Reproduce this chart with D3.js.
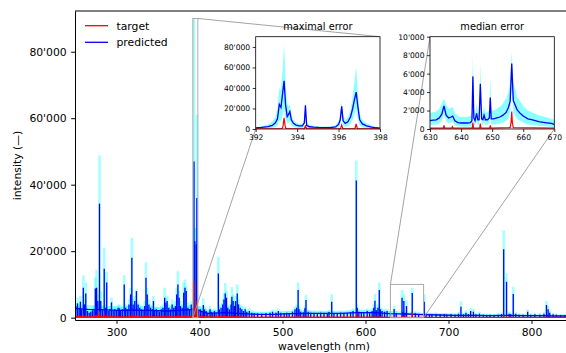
<!DOCTYPE html>
<html>
<head>
<meta charset="utf-8">
<script src="https://cdn.jsdelivr.net/npm/d3@7"></script>
<style>
  body { margin: 0; background: #fff; }
  svg { display: block; }
  text { font-family: "DejaVu Sans", sans-serif; fill: #000; }
</style>
</head>
<body>
<div id="chart"></div>
<script>
// ---- main spectrum: smooth background level ----
const baseWl   = [250, 265, 280, 300, 320, 340, 360, 380, 395, 410, 430, 450, 470, 490, 510, 530, 550, 570, 590, 610, 630, 650, 670, 690, 710, 730, 750, 770, 790, 810, 830, 850];
const basePred = [2800,2500,2400,2200,2300,2200,2000,2300,2500,1300,1500,1200,1000,1000,1200,1300,1300,1300,1500,1500,1200,1100,900,800,700,700,600,700,600,600,500,500];
const baseHi   = [4200,3800,3700,3400,3500,3400,3100,3500,3800,2200,2400,2000,1700,1700,2000,2100,2100,2100,2400,2400,2000,1800,1500,1300,1200,1200,1000,1200,1000,1000,900,900];
const baseLo   = [1000,900,900,800,800,800,700,800,900,500,600,500,400,400,500,500,500,500,600,600,500,400,350,300,250,250,200,250,200,200,200,200];
const baseTgt  = [300,250,300,200,200,200,200,250,300,200,200,150,120,120,120,120,120,120,150,120,100,100,100,80,80,80,80,80,80,80,80,80];

// ---- main spectrum: emission lines ----
const peakWl = [
  251,253,255,256.5,258,260,261.5,263,265,267,269,271,273,274.5,276,277.5,279.5,281,283,285.2,287,288.2,290,292,294,296,298,
  300,302,303.5,305,307,309.3,311,313,315,317,318.5,320,322,324,326,328,330,332,334,335.5,337,339,341,343,344.5,346,348,
  350,352,354,356,358,359.5,361,363,365,367,369,371,372.5,374,375.5,377,379,381,382.5,384,386,388,390,392,
  393.37,394.4,396.15,396.85,399,
  401,403,404.6,406,408,410,412.6,414,416,418,420,422.7,424,426,428,429.5,431,432.5,434,436,438,439,440.5,442,443.5,445.5,447,449,451,453,455,457,460,463,466,470,475,480,485,488,492,495,498,
  502,505,508,512,515,517,518.8,520,522,525,527,528.3,531,534,538,542,546,550,554,556,559.3,562,566,570,574,578,582,585,588.9,590,592,595,598,
  602,605,608,610,611.4,613,615,616.6,618,620,623,626,630,634.5,637,644,645,646.2,647.5,649.4,656.3,660,664,670.8,673,677,680,685,690,695,698,
  703,708,712,715,718,721,724,726.7,730,733,737.3,742,746,750,755,760,764,766.5,769.9,773,775,778,781,785,790,795.4,799,804,810,815,818,820,822,826,830,835,840,845
];
const peakPred = [
  3500,4300,3000,4800,2500,9000,4000,7300,2000,1500,1800,2200,2500,8800,9000,5000,34300,5000,2500,14700,3000,10600,2000,2500,4600,2000,2600,
  2000,3000,2800,2000,2500,10000,3000,2500,4000,7000,18000,4000,5000,8000,4000,3000,2500,2000,3500,12000,7000,4000,3000,2500,5000,2000,2500,
  2000,1800,2500,3000,6000,4500,5000,3000,2500,4000,3000,3500,7000,10000,6000,3500,3000,7500,9000,8000,3000,2500,4000,3000,
  47000,23000,22000,36000,2500,
  2500,2000,3800,2500,2000,1500,2500,1800,1500,2000,1500,13300,2500,3000,4000,5500,7300,6000,3000,2500,4000,6300,5000,3500,5000,7300,4000,3000,2500,2000,2500,1800,2000,1500,1400,1300,1200,1300,1500,1800,1500,2000,1500,
  1400,1500,1400,1800,2500,3000,8300,2500,1800,1600,2800,5300,1800,1500,1400,1300,1500,1400,1300,1700,4800,1400,1300,1500,1300,1400,1600,2000,41300,3000,1800,1500,1600,
  2000,1500,2000,3000,5100,2200,3000,8300,2500,2000,1800,2000,1300,2600,1400,6000,1700,5000,1500,3500,7400,1300,1100,4800,1000,900,1000,1100,900,1000,900,
  1000,900,1200,3300,1000,1500,1100,2000,1800,1000,1200,900,800,900,800,900,1100,20600,10800,1200,1000,7100,1200,900,900,1800,900,1000,900,1200,3800,2500,1500,1000,900,800,800,700
];
const peakHi = [
  4500,6000,4000,6500,3500,12700,5500,10600,3000,2200,2500,3000,3500,12000,14400,7000,48800,8000,3500,21000,4200,13700,2800,3500,6000,2800,3500,
  3000,4000,3800,3000,3300,12800,4000,3500,5500,9000,24000,5500,6500,8500,5000,4000,3500,3000,5000,16700,9000,5500,4000,3500,6500,3000,3200,
  3000,2500,3500,4000,9000,6000,6500,4000,3500,5500,4000,5000,9000,14000,8000,5000,4000,10500,11500,9500,4500,3800,5000,4000,
  90000,27000,27000,61000,3500,
  3500,3000,5900,3500,2800,2200,3500,2500,2200,2800,2200,18300,3500,4200,5500,7500,10400,8000,4000,3500,5500,9200,7000,5000,6500,10000,5500,4000,3500,3000,3300,2500,2800,2200,2000,1800,1700,1800,2000,2500,2200,2600,2000,
  2000,2100,2000,2500,3300,4000,10600,3500,2500,2200,3600,6800,2400,2100,2000,1800,2000,1900,1800,2300,7000,2000,1800,2000,1800,1900,2200,2800,47300,4000,2500,2100,2200,
  2700,2100,2800,4000,7200,3000,4000,10600,3300,2700,2500,2700,2000,3500,2000,8300,2500,7000,2200,5200,9000,2000,1600,7100,1500,1400,1500,1600,1300,1400,1300,
  1500,1300,1700,5000,1500,2200,1600,3000,2600,1400,1800,1300,1200,1300,1200,1300,1600,26300,13400,1800,1500,9300,1700,1300,1300,2500,1300,1500,1300,1700,5000,3500,2100,1400,1300,1200,1100,1000
];
const peakTgt = [
  400,500,300,600,300,900,400,700,300,200,250,300,300,800,900,500,1800,500,300,1200,300,900,300,300,500,250,300,
  250,300,300,250,300,800,300,250,400,600,1200,400,500,700,400,300,250,250,350,900,600,400,300,250,500,250,250,
  250,200,300,300,600,400,500,300,250,400,300,350,600,900,500,350,300,700,900,800,300,250,400,300,
  11000,3000,4000,5000,300,
  250,200,350,250,200,150,250,180,150,200,150,900,250,300,400,500,700,500,300,250,400,600,500,300,400,600,350,300,250,200,200,150,150,130,120,120,110,120,130,150,130,150,130,
  120,130,120,150,200,250,400,200,150,130,200,300,150,130,120,110,120,120,110,130,250,120,110,120,110,120,130,150,1300,200,150,130,130,
  150,120,150,200,250,150,200,400,150,130,120,130,100,300,100,700,150,600,120,400,1800,100,90,250,90,80,90,90,80,80,80,
  80,80,90,200,80,120,90,150,130,80,100,80,80,80,80,80,90,800,500,90,80,300,90,80,80,130,80,80,80,90,200,150,100,80,80,80,80,80
];

// ---- inset 1: maximal error ----
const in1Wl   = [392.0,392.3,392.6,392.8,392.95,393.05,393.14,393.22,393.30,393.37,393.44,393.52,393.58,393.65,393.72,393.82,393.95,394.1,394.25,394.35,394.40,394.46,394.6,394.8,395.0,395.3,395.6,395.85,396.0,396.08,396.15,396.22,396.32,396.45,396.58,396.68,396.76,396.85,396.93,397.02,397.15,397.35,397.6,397.8,398.0];
const in1Pred = [1000,1500,2300,3500,6000,10000,24000,21000,35000,47000,24000,12000,14000,17000,9000,5500,3800,3000,3000,6000,23000,3500,2200,1800,1500,1300,1400,2000,4500,9000,22000,8000,5500,7000,12000,20000,28000,36000,22000,9000,5000,3000,1800,1200,900];
const in1Hi   = [2000,3000,4500,7000,12000,20000,40000,38000,58000,84000,45000,25000,22000,24000,15000,9000,6000,5000,5000,10000,27000,6000,4000,3200,2800,2500,2600,3500,7500,14000,27000,13000,9000,11000,18000,32000,45000,61000,35000,15000,8500,5500,3500,2200,1700];
const in1Lo   = [300,500,800,1200,2000,3500,9000,7000,14000,20000,10000,5000,6000,8000,4000,2000,1400,1000,1000,2500,12000,1200,700,600,500,400,500,700,1500,3500,12000,3000,2000,2500,5000,9000,14000,20000,10000,3500,1800,1000,600,400,300];
const in1TgtWl  = [392.0,393.27,393.32,393.37,393.42,393.47,394.34,394.40,394.46,396.09,396.15,396.21,396.79,396.85,396.91,398.0];
const in1TgtVal = [150,150,3000,11000,3000,150,150,3000,150,150,4000,150,150,5000,150,150];

// ---- inset 2: median error ----
const in2Wl   = [630,631,632,633,633.8,634.5,635.2,636,636.8,637.3,638,639,640,641,642,643,643.5,643.8,644.1,644.5,645,645.4,645.8,646.2,646.6,647,647.4,647.8,648.5,649.1,649.4,649.7,650.5,651.5,652.5,653.5,654.5,655.2,655.8,656.3,656.8,657.4,658,659,660,661.5,663,665,667,669,670];
const in2Pred = [900,950,1000,1200,1600,2500,1500,1200,1300,1400,900,700,650,650,650,700,900,5700,1200,900,1700,1000,1000,4900,1100,1000,1500,1000,1000,1200,3400,1100,1100,1200,1300,1500,1800,2300,3000,7100,3100,2600,2100,1700,1400,1100,1000,800,700,600,500];
const in2Hi   = [1800,1800,1900,2200,2800,3300,2600,2200,2300,2400,1700,1400,1300,1300,1300,1400,1700,8100,2200,1700,2700,1800,1800,7100,2000,1800,2500,1800,1800,2100,5600,2000,2000,2200,2400,2800,3300,4000,5000,8300,5000,4300,3500,3000,2500,2000,1800,1500,1300,1100,1000];
const in2Lo   = [400,450,500,600,900,1600,800,600,700,800,400,300,250,250,250,300,400,3500,500,400,900,450,450,3000,500,450,800,450,450,600,2000,500,500,550,600,700,900,1200,1800,5000,1800,1400,1100,900,700,500,450,350,300,250,200];
const in2TgtWl  = [630,634.3,634.5,634.7,637,637.2,637.4,643.6,643.8,644,646,646.2,646.4,649.2,649.4,649.6,655.8,656.1,656.3,656.5,656.8,670];
const in2TgtVal = [100,100,400,100,100,250,100,100,700,100,100,600,100,100,400,100,150,700,1900,700,150,100];

const xTicks  = [300, 400, 500, 600, 700, 800];
const yTicks  = [0, 20000, 40000, 60000, 80000];
const in1XTicks = [392, 394, 396, 398];
const in1YTicks = [0, 20000, 40000, 60000, 80000];
const in2XTicks = [630, 640, 650, 660, 670];
const in2YTicks = [0, 2000, 4000, 6000, 8000, 10000];

const W = 566, H = 353;
const fmt = d => d3.format(',')(d).replace(/,/g, "'");

const svg = d3.select('#chart').append('svg')
  .attr('width', W).attr('height', H);

const m = {left: 75, top: 11, right: 573, bottom: 320};
const x = d3.scaleLinear().domain([250, 850]).range([m.left, m.right]);
const y = d3.scaleLinear().domain([-700, 92250]).range([m.bottom, m.top]);

const defs = svg.append('defs');
defs.append('clipPath').attr('id', 'clipMain').append('rect')
  .attr('x', m.left).attr('y', m.top)
  .attr('width', m.right - m.left).attr('height', m.bottom - m.top);

const plot = svg.append('g').attr('clip-path', 'url(#clipMain)');
const bi = d3.range(baseWl.length);
const pi = d3.range(peakWl.length);

// uncertainty band
plot.append('path')
  .attr('d', d3.area().x(i => x(baseWl[i])).y0(i => y(baseLo[i])).y1(i => y(baseHi[i]))(bi))
  .attr('fill', 'cyan').attr('opacity', 0.35);
plot.append('g').selectAll('line').data(pi).join('line')
  .attr('x1', i => x(peakWl[i])).attr('x2', i => x(peakWl[i]))
  .attr('y1', y(0)).attr('y2', i => y(peakHi[i]))
  .attr('stroke', 'cyan').attr('stroke-opacity', 0.35).attr('stroke-width', 2.6);

// predicted
plot.append('path')
  .attr('d', d3.line().x(i => x(baseWl[i])).y(i => y(basePred[i]))(bi))
  .attr('fill', 'none').attr('stroke', 'blue').attr('stroke-width', 1.3);
plot.append('g').selectAll('line').data(pi).join('line')
  .attr('x1', i => x(peakWl[i])).attr('x2', i => x(peakWl[i]))
  .attr('y1', y(0)).attr('y2', i => y(peakPred[i]))
  .attr('stroke', 'blue').attr('stroke-width', 1.3);

// target
plot.append('path')
  .attr('d', d3.line().x(i => x(baseWl[i])).y(i => y(baseTgt[i]))(bi))
  .attr('fill', 'none').attr('stroke', 'red').attr('stroke-width', 1.3);
plot.append('g').selectAll('line').data(pi).join('line')
  .attr('x1', i => x(peakWl[i])).attr('x2', i => x(peakWl[i]))
  .attr('y1', y(0)).attr('y2', i => y(peakTgt[i]))
  .attr('stroke', 'red').attr('stroke-width', 1.2);

// axes
const xAxis = svg.append('g').attr('transform', `translate(0,${m.bottom})`)
  .call(d3.axisBottom(x).tickValues(xTicks).tickSize(3.8).tickPadding(4.5).tickSizeOuter(0));
const yAxis = svg.append('g').attr('transform', `translate(${m.left},0)`)
  .call(d3.axisLeft(y).tickValues(yTicks).tickFormat(fmt).tickSize(3.8).tickPadding(4.5).tickSizeOuter(0));
[xAxis, yAxis].forEach(a => {
  a.selectAll('text').style('font-size', '10.8px').style('font-family', '"DejaVu Sans", sans-serif');
  a.selectAll('line, path').attr('stroke', '#000').attr('stroke-width', 1);
});
svg.append('line').attr('x1', m.left).attr('x2', m.right).attr('y1', m.top).attr('y2', m.top)
  .attr('stroke', '#000').attr('stroke-width', 1);

svg.append('text').attr('x', (m.left + m.right) / 2).attr('y', 350)
  .attr('text-anchor', 'middle').style('font-size', '10.8px').text('wavelength (nm)');
svg.append('text').attr('transform', `translate(21,${(m.top + m.bottom) / 2}) rotate(-90)`)
  .attr('text-anchor', 'middle').style('font-size', '10.8px').text('intensity (—)');

// legend
const legend = [['target', 'red'], ['predicted', 'blue']];
legend.forEach(([label, color], k) => {
  const ly = 25.7 + k * 16.6;
  svg.append('line').attr('x1', 85).attr('x2', 108).attr('y1', ly).attr('y2', ly)
    .attr('stroke', color).attr('stroke-width', 1.3);
  svg.append('text').attr('x', 116.5).attr('y', ly + 3.9)
    .style('font-size', '10.8px').text(label);
});

// insets
const box1 = {x0: 255.7, x1: 380, y0: 36.7, y1: 129};
const box2 = {x0: 430, x1: 554.3, y0: 36.7, y1: 129};
const xi1 = d3.scaleLinear().domain([392, 398]).range([box1.x0, box1.x1]);
const yi1 = d3.scaleLinear().domain([0, 90000]).range([box1.y1, box1.y0]);
const xi2 = d3.scaleLinear().domain([630, 670]).range([box2.x0, box2.x1]);
const yi2 = d3.scaleLinear().domain([0, 10000]).range([box2.y1, box2.y0]);

// zoom indicators
const zoomG = svg.append('g');
function indicate(xs, ys, xi, yi, pairs) {
  const [a, b] = xi.domain(), [c, d] = yi.domain();
  zoomG.append('rect').attr('x', xs(a)).attr('y', ys(d))
    .attr('width', xs(b) - xs(a)).attr('height', ys(c) - ys(d))
    .attr('fill', 'none').attr('stroke', '#aaa').attr('stroke-width', 1);
  pairs.forEach(([px, py]) => {
    zoomG.append('line')
      .attr('x1', xs(px)).attr('y1', ys(py)).attr('x2', xi(px)).attr('y2', yi(py))
      .attr('stroke', '#999').attr('stroke-width', 0.9);
  });
}
indicate(x, y, xi1, yi1, [[398, 90000], [392, 0]]);
indicate(x, y, xi2, yi2, [[630, 10000], [670, 0]]);

function drawInset(id, box, xs, ys, xt, yt, title, wl, pred, lo, hi, tWl, tVal) {
  const g = svg.append('g');
  g.append('rect').attr('x', box.x0).attr('y', box.y0)
    .attr('width', box.x1 - box.x0).attr('height', box.y1 - box.y0).attr('fill', '#fff');
  defs.append('clipPath').attr('id', id).append('rect')
    .attr('x', box.x0).attr('y', box.y0)
    .attr('width', box.x1 - box.x0).attr('height', box.y1 - box.y0);
  const c = g.append('g').attr('clip-path', `url(#${id})`);
  const idx = d3.range(wl.length);
  c.append('path')
    .attr('d', d3.area().x(i => xs(wl[i])).y0(i => ys(lo[i])).y1(i => ys(hi[i]))(idx))
    .attr('fill', 'cyan').attr('opacity', 0.45);
  c.append('path')
    .attr('d', d3.line().x(i => xs(wl[i])).y(i => ys(pred[i]))(idx))
    .attr('fill', 'none').attr('stroke', 'blue').attr('stroke-width', 1.3);
  const tIdx = d3.range(tWl.length);
  c.append('path')
    .attr('d', d3.line().x(i => xs(tWl[i])).y(i => ys(tVal[i]))(tIdx))
    .attr('fill', 'none').attr('stroke', 'red').attr('stroke-width', 1.2);
  const ax = g.append('g').attr('transform', `translate(0,${box.y1})`)
    .call(d3.axisBottom(xs).tickValues(xt).tickFormat(d3.format('d')).tickSize(3).tickPadding(2.5).tickSizeOuter(0));
  const ay = g.append('g').attr('transform', `translate(${box.x0},0)`)
    .call(d3.axisLeft(ys).tickValues(yt).tickFormat(fmt).tickSize(3).tickPadding(2.5).tickSizeOuter(0));
  [ax, ay].forEach(a => {
    a.selectAll('text').style('font-size', '7.6px').style('font-family', '"DejaVu Sans", sans-serif');
    a.selectAll('line').attr('stroke', '#000').attr('stroke-width', 0.8);
    a.select('.domain').remove();
  });
  g.append('rect').attr('x', box.x0).attr('y', box.y0)
    .attr('width', box.x1 - box.x0).attr('height', box.y1 - box.y0)
    .attr('fill', 'none').attr('stroke', '#000').attr('stroke-width', 0.8);
  g.append('text').attr('x', (box.x0 + box.x1) / 2).attr('y', box.y0 - 7)
    .attr('text-anchor', 'middle').style('font-size', '9.8px').text(title);
}

drawInset('clipIn1', box1, xi1, yi1, in1XTicks, in1YTicks, 'maximal error',
  in1Wl, in1Pred, in1Lo, in1Hi, in1TgtWl, in1TgtVal);
drawInset('clipIn2', box2, xi2, yi2, in2XTicks, in2YTicks, 'median error',
  in2Wl, in2Pred, in2Lo, in2Hi, in2TgtWl, in2TgtVal);
</script>
</body>
</html>
